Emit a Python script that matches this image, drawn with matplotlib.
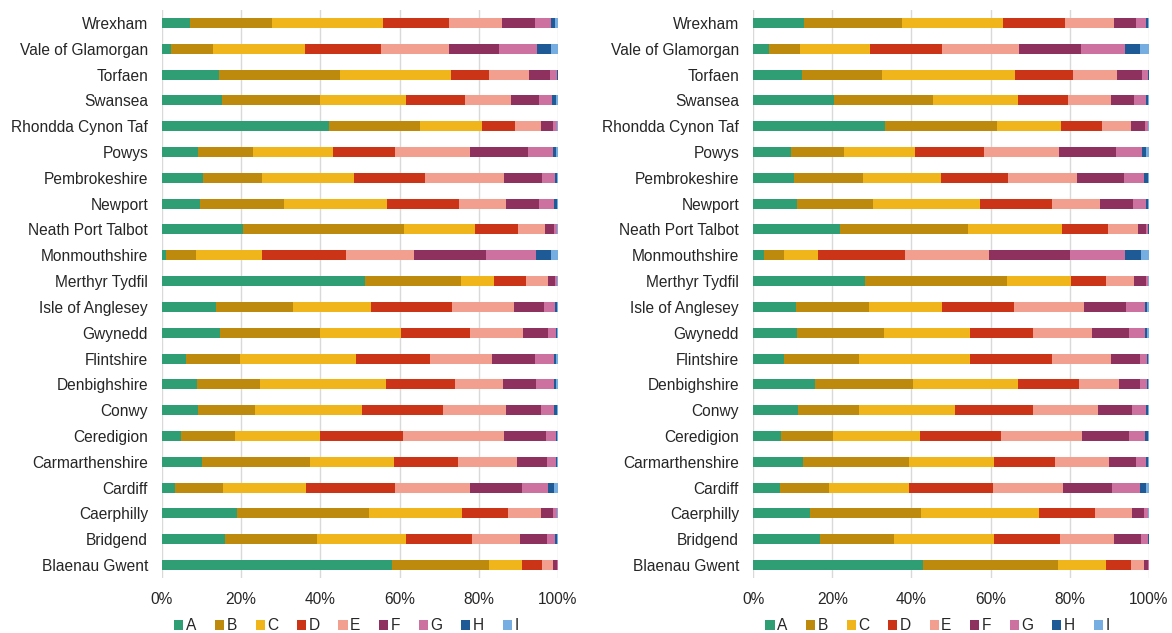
import numpy as np
import matplotlib
matplotlib.use('Agg')
import matplotlib.pyplot as plt
from matplotlib.patches import Patch

plt.rcParams['font.family'] = ['Liberation Sans', 'DejaVu Sans']

# Rows listed bottom to top
areas = ['Blaenau Gwent', 'Bridgend', 'Caerphilly', 'Cardiff', 'Carmarthenshire',
         'Ceredigion', 'Conwy', 'Denbighshire', 'Flintshire', 'Gwynedd',
         'Isle of Anglesey', 'Merthyr Tydfil', 'Monmouthshire', 'Neath Port Talbot',
         'Newport', 'Pembrokeshire', 'Powys', 'Rhondda Cynon Taf', 'Swansea',
         'Torfaen', 'Vale of Glamorgan', 'Wrexham']
bands = ['A', 'B', 'C', 'D', 'E', 'F', 'G', 'H', 'I']
colors = ['#2f9e74', '#bd8a0e', '#f1b51c', '#cc3418', '#f29f8f',
          '#8e315f', '#cd72a0', '#1e5a96', '#76aee2']

# Left panel: share (%) per band A..I, same row order as areas
left_shares = [
    [58.0, 24.5, 8.3, 5.2, 2.7, 1.0, 0.2, 0.05, 0.05],
    [15.9, 23.2, 22.6, 16.5, 12.3, 6.6, 2.2, 0.4, 0.3],
    [18.9, 33.5, 23.4, 11.6, 8.4, 2.9, 1.0, 0.1, 0.2],
    [3.2, 12.1, 21.1, 22.5, 18.9, 13.1, 6.6, 1.4, 1.1],
    [10.2, 27.2, 21.2, 16.2, 14.9, 7.4, 2.5, 0.2, 0.2],
    [4.8, 13.7, 21.4, 21.0, 25.4, 10.7, 2.6, 0.2, 0.2],
    [9.2, 14.3, 26.9, 20.6, 15.9, 8.7, 3.5, 0.6, 0.3],
    [8.8, 15.9, 31.9, 17.3, 12.3, 8.3, 4.6, 0.5, 0.4],
    [6.1, 13.5, 29.5, 18.6, 15.7, 10.8, 4.7, 0.6, 0.5],
    [14.6, 25.4, 20.4, 17.4, 13.3, 6.3, 2.2, 0.2, 0.2],
    [13.6, 19.5, 19.6, 20.5, 15.7, 7.6, 2.8, 0.4, 0.3],
    [51.2, 24.4, 8.2, 8.0, 5.6, 1.8, 0.5, 0.1, 0.2],
    [0.9, 7.8, 16.5, 21.3, 17.1, 18.1, 12.7, 3.9, 1.7],
    [20.5, 40.7, 17.8, 11.0, 6.8, 2.2, 0.7, 0.1, 0.2],
    [9.5, 21.4, 26.0, 18.0, 11.9, 8.3, 3.9, 0.7, 0.3],
    [10.4, 14.9, 23.1, 18.1, 19.9, 9.6, 3.3, 0.4, 0.3],
    [9.0, 14.1, 20.1, 15.7, 19.0, 14.6, 6.3, 0.8, 0.4],
    [42.2, 22.9, 15.6, 8.5, 6.4, 3.1, 1.0, 0.1, 0.2],
    [15.2, 24.8, 21.7, 14.8, 11.6, 7.0, 3.5, 0.8, 0.6],
    [14.3, 30.6, 28.0, 9.8, 10.1, 5.3, 1.7, 0.1, 0.1],
    [2.2, 10.6, 23.4, 19.1, 17.3, 12.4, 9.6, 3.6, 1.8],
    [7.0, 20.9, 28.0, 16.5, 13.5, 8.2, 4.2, 0.9, 0.8],
]

# Right panel
right_shares = [
    [43.0, 34.0, 12.1, 6.3, 3.3, 1.0, 0.2, 0.05, 0.05],
    [16.8, 18.9, 25.2, 16.5, 13.8, 6.7, 1.8, 0.2, 0.1],
    [14.5, 28.0, 29.7, 14.2, 9.3, 3.1, 0.9, 0.1, 0.2],
    [6.9, 12.4, 20.1, 21.3, 17.6, 12.4, 7.1, 1.5, 0.7],
    [12.5, 26.9, 21.5, 15.4, 13.5, 7.0, 2.5, 0.4, 0.3],
    [7.1, 13.0, 22.1, 20.5, 20.5, 11.8, 4.0, 0.7, 0.3],
    [11.3, 15.5, 24.3, 19.7, 16.4, 8.4, 3.6, 0.5, 0.3],
    [15.7, 24.8, 26.4, 15.4, 10.2, 5.1, 1.9, 0.3, 0.2],
    [7.9, 18.9, 28.1, 20.5, 15.0, 7.2, 1.9, 0.3, 0.2],
    [11.2, 22.0, 21.6, 16.0, 14.7, 9.4, 4.0, 0.7, 0.4],
    [10.8, 18.6, 18.4, 18.1, 17.6, 10.8, 4.6, 0.7, 0.4],
    [28.2, 35.9, 16.3, 8.7, 7.0, 3.1, 0.5, 0.1, 0.2],
    [2.8, 5.0, 8.5, 22.0, 21.4, 20.4, 13.8, 4.1, 2.0],
    [22.0, 32.2, 23.7, 11.8, 7.6, 2.0, 0.5, 0.1, 0.1],
    [11.2, 19.2, 27.0, 18.0, 12.2, 8.3, 3.4, 0.5, 0.2],
    [10.3, 17.5, 19.7, 16.8, 17.6, 11.7, 5.1, 1.0, 0.3],
    [9.7, 13.3, 18.0, 17.4, 18.9, 14.4, 6.4, 1.2, 0.7],
    [33.4, 28.2, 16.2, 10.3, 7.4, 3.4, 0.8, 0.1, 0.2],
    [20.4, 25.1, 21.4, 12.7, 10.8, 5.8, 3.0, 0.5, 0.3],
    [12.4, 20.2, 33.6, 14.7, 11.1, 6.2, 1.6, 0.1, 0.1],
    [4.0, 7.9, 17.7, 18.0, 19.5, 15.7, 11.1, 3.9, 2.2],
    [13.0, 24.7, 25.5, 15.6, 12.4, 5.6, 2.5, 0.5, 0.2],
]

text_color = '#262626'
font_size = 11.2


def draw_panel(ax, shares):
    data = np.array(shares, dtype=float)
    data = data / data.sum(axis=1, keepdims=True)
    y = np.arange(len(areas))
    left = np.zeros(len(areas))
    for j, band in enumerate(bands):
        ax.barh(y, data[:, j], left=left, height=0.39, color=colors[j],
                edgecolor='none', label=band, zorder=3)
        left += data[:, j]
    ax.set_xlim(0, 1)
    ax.set_ylim(-0.5, len(areas) - 0.5)
    ax.set_yticks(y)
    ax.set_yticklabels(areas, fontsize=font_size, color=text_color)
    ax.set_xticks(np.linspace(0, 1, 6))
    ax.set_xticklabels(['0%', '20%', '40%', '60%', '80%', '100%'],
                       fontsize=font_size, color=text_color)
    ax.tick_params(length=0, axis='y', pad=10)
    ax.tick_params(length=0, axis='x', pad=10)
    ax.grid(axis='x', color='#d9d9d9', linewidth=1, zorder=0)
    for side in ax.spines.values():
        side.set_visible(False)
    handles = [Patch(facecolor=c, edgecolor='none') for c in colors]
    ax.legend(handles, bands, loc='upper left', bbox_to_anchor=(0.015, -0.06),
              ncol=9, frameon=False, fontsize=font_size, handlelength=0.6,
              handleheight=0.6, handletextpad=0.15, columnspacing=1.2,
              labelcolor=text_color, borderaxespad=0)


fig = plt.figure(figsize=(11.72, 6.33), dpi=100)
ax1 = fig.add_axes([0.1382, 0.0869, 0.3379, 0.8973])
ax2 = fig.add_axes([0.6425, 0.0869, 0.3379, 0.8973])
draw_panel(ax1, left_shares)
draw_panel(ax2, right_shares)

fig.savefig('out.png', dpi=100)
